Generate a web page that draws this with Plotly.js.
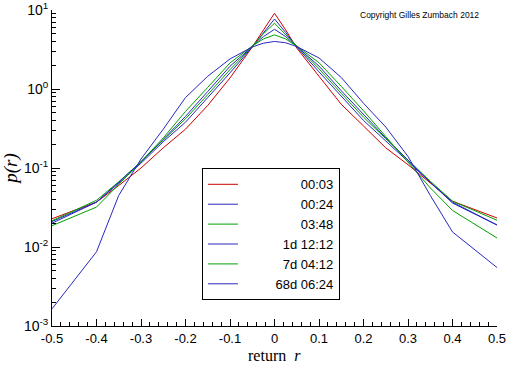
<!DOCTYPE html>
<html>
<head>
<meta charset="utf-8">
<script src="https://cdn.plot.ly/plotly-3.0.1.min.js"></script>
<style>html,body{margin:0;padding:0;background:#fff;}#chart{width:512px;height:366px;}</style>
</head>
<body>
<div id="chart"></div>
<script>
// return grid
const r = [-0.5,-0.4,-0.35,-0.3,-0.25,-0.2,-0.15,-0.1,-0.05,-0.025,0,0.025,0.05,0.1,0.15,0.2,0.25,0.3,0.35,0.4,0.5];
// p(r) for each time horizon
const p_0003 = [0.0228,0.037,0.060,0.100,0.18,0.31,0.62,1.38,3.4,5.6,9.1,5.6,3.3,1.45,0.64,0.34,0.18,0.11,0.065,0.038,0.0233];
const p_0024 = [0.021,0.037,0.064,0.115,0.215,0.38,0.78,1.6,3.4,5.2,7.7,5.2,3.4,1.65,0.8,0.4,0.22,0.12,0.066,0.037,0.019];
const p_0348 = [0.0215,0.039,0.067,0.12,0.225,0.42,0.85,1.76,3.45,5.0,6.8,4.9,3.45,1.8,0.88,0.44,0.235,0.125,0.068,0.038,0.0218];
const p_1d1212 = [0.020,0.037,0.066,0.12,0.23,0.45,0.93,1.94,3.45,4.6,5.7,4.6,3.45,1.95,0.95,0.47,0.24,0.125,0.066,0.036,0.019];
const p_7d0412 = [0.0186,0.032,0.062,0.12,0.24,0.52,1.05,2.14,3.5,4.3,4.85,4.3,3.5,2.15,1.08,0.53,0.25,0.12,0.056,0.029,0.013];
const p_68d0624 = [0.00165,0.0087,0.045,0.13,0.31,0.78,1.45,2.4,3.4,3.8,4.0,3.85,3.45,2.47,1.4,0.66,0.33,0.14,0.045,0.0155,0.0055];

const seriesNames = ["00:03","00:24","03:48","1d 12:12","7d 04:12","68d 06:24"];
const seriesPad = [16,16,16,11,11,9];
const seriesColors = ["#cc0000","#2828c0","#00a000","#2828c0","#00a000","#2828c0"];
const seriesValues = [p_0003,p_0024,p_0348,p_1d1212,p_7d0412,p_68d0624];

const xTickVals = [-0.5,-0.4,-0.3,-0.2,-0.1,0,0.1,0.2,0.3,0.4,0.5];
const xTickText = ["-0.5","-0.4","-0.3","-0.2","-0.1","0","0.1","0.2","0.3","0.4","0.5"];
const yTickVals = [0.001,0.01,0.1,1,10];
const yTickText = ["10<sup>-3</sup>","10<sup>-2</sup>","10<sup>-1</sup>","10<sup>0</sup>","10<sup>1</sup>"];
const yMinorDigits = [2,3,4,5,6,7,8,9];
const yMinorVals = [0.001,0.01,0.1,1].flatMap(d => yMinorDigits.map(k => k*d));

const traces = seriesValues.map((v,i)=>({
  x: r, y: v, type:'scatter', mode:'lines',
  name: '\u00a0'.repeat(seriesPad[i]) + seriesNames[i],
  line:{color:seriesColors[i], width:1}
}));

const sans = 'Liberation Sans, Arial, sans-serif';
const serif = 'Liberation Serif, Times New Roman, serif';

const layout = {
  width:512, height:366,
  margin:{l:52, r:15, t:10, b:40},
  paper_bgcolor:'#fff', plot_bgcolor:'#fff',
  showlegend:true,
  legend:{x:0.337, xanchor:'left', y:0.29, yanchor:'middle',
    bgcolor:'#fff', bordercolor:'#000', borderwidth:1,
    font:{family:sans, size:13, color:'#000'}},
  xaxis:{range:[-0.5,0.5], showgrid:false, zeroline:false, automargin:false,
    showline:true, linecolor:'#000', linewidth:1,
    ticks:'inside', ticklen:7, tickcolor:'#000',
    tickmode:'array', tickvals:xTickVals, ticktext:xTickText,
    tickfont:{family:sans, size:13, color:'#000'},
    minor:{dtick:0.02, ticks:'inside', ticklen:4, tickcolor:'#000', showgrid:false}},
  yaxis:{type:'log', range:[-3,1], showgrid:false, zeroline:false, automargin:false,
    showline:true, linecolor:'#000', linewidth:1,
    ticks:'inside', ticklen:8, tickcolor:'#000',
    tickmode:'array', tickvals:yTickVals, ticktext:yTickText,
    tickfont:{family:sans, size:14, color:'#000'},
    minor:{tickmode:'array', tickvals:yMinorVals, ticks:'inside', ticklen:4, tickcolor:'#000', showgrid:false},
    title:{text:'<i>p(r)</i>', font:{family:serif, size:19, color:'#000'}, standoff:4}},
  annotations:[
    {text:'Copyright Gilles Zumbach 2012', xref:'paper', yref:'paper',
     x:0.825, y:0.984, xanchor:'center', yanchor:'middle', showarrow:false,
     font:{family:sans, size:8.5, color:'#000'}},
    {text:'return\u00a0\u00a0<i>r</i>', xref:'paper', yref:'paper',
     x:0.5, y:0, xanchor:'center', yanchor:'top', yshift:-19, showarrow:false,
     font:{family:serif, size:16, color:'#000'}}
  ]
};

Plotly.newPlot('chart', traces, layout, {displayModeBar:false, staticPlot:true});
</script>
</body>
</html>
